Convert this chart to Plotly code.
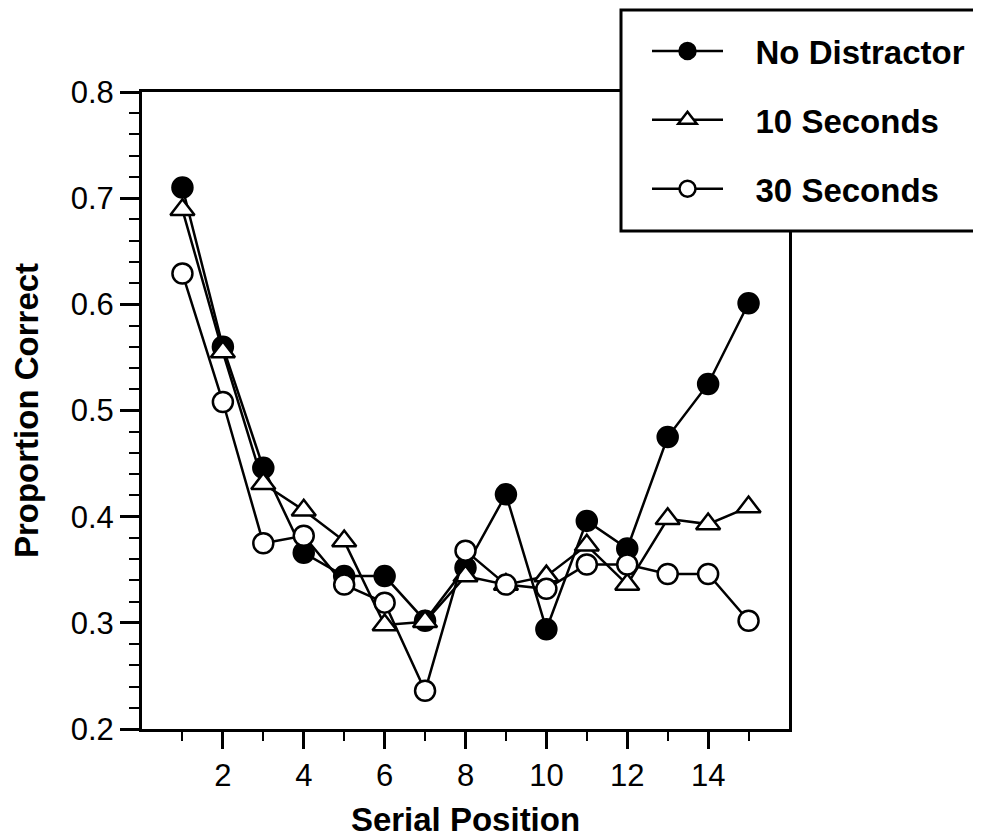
import plotly.graph_objects as go

serial_position = list(range(1, 16))
no_distractor = [0.710, 0.560, 0.446, 0.366, 0.344, 0.344, 0.302, 0.352, 0.421, 0.294, 0.396, 0.370, 0.475, 0.525, 0.601]
ten_seconds = [0.689, 0.555, 0.431, 0.406, 0.377, 0.298, 0.301, 0.344, 0.336, 0.344, 0.373, 0.336, 0.398, 0.393, 0.409]
thirty_seconds = [0.629, 0.508, 0.375, 0.382, 0.336, 0.319, 0.236, 0.368, 0.336, 0.332, 0.355, 0.355, 0.346, 0.346, 0.302]
series_names = ["No Distractor", "10 Seconds", "30 Seconds"]
x_tick_vals = [2, 4, 6, 8, 10, 12, 14]
x_minor_vals = [1, 3, 5, 7, 9, 11, 13, 15]
y_tick_vals = [0.2, 0.3, 0.4, 0.5, 0.6, 0.7, 0.8]
y_tick_text = ["0.2", "0.3", "0.4", "0.5", "0.6", "0.7", "0.8"]

FONT = "Liberation Sans"
NBSP = "\u00a0"
fig = go.Figure()

styles = [
    dict(symbol="circle", color="black", size=20),
    dict(symbol="triangle-up", color="white", size=21),
    dict(symbol="circle", color="white", size=20),
]
for i, (name, vals) in enumerate(zip(series_names, [no_distractor, ten_seconds, thirty_seconds])):
    s = styles[i]
    fig.add_trace(go.Scatter(
        x=serial_position, y=vals, name=NBSP * 3 + name, mode="lines+markers",
        legendgroup=f"g{i}",
        line=dict(color="black", width=2.5),
        marker=dict(symbol=s["symbol"], size=s["size"], color=s["color"],
                    line=dict(color="black", width=2.5)),
    ))

# page body adds an 8px offset; the figure is sized so the page matches 981x838
OFF = 8
W, H = 981 - OFF, 838 - OFF
L = 142 - OFF
T = 92 - OFF
R = W - (789 - OFF)
B = H - (729 - OFF)
pw, ph = W - L - R, H - T - B

def px_x(p):
    return (p - OFF - L) / pw

def px_y(p):
    return (H - B - (p - OFF)) / ph

# legend box
fig.add_shape(type="rect", xref="paper", yref="paper",
              x0=px_x(621), x1=px_x(1010), y0=px_y(231), y1=px_y(10),
              fillcolor="white", line=dict(color="black", width=3), layer="above")

axis_common = dict(showline=True, linecolor="black", linewidth=3, mirror=True,
                   ticks="outside", tickwidth=2.5, tickcolor="black",
                   showgrid=False, zeroline=False,
                   tickfont=dict(family=FONT, size=31, color="black"))

fig.update_xaxes(range=[0, 16], tickmode="array", tickvals=x_tick_vals, ticklen=17,
                 minor=dict(tickmode="array", tickvals=x_minor_vals,
                            ticks="outside", ticklen=9, tickwidth=2, tickcolor="black"),
                 title=dict(text="Serial Position", standoff=22,
                            font=dict(family=FONT, size=33, color="black", weight="bold")),
                 **axis_common)
fig.update_yaxes(range=[0.2, 0.8], tickmode="array", tickvals=y_tick_vals,
                 ticktext=y_tick_text, ticklen=19,
                 minor=dict(dtick=0.02, ticks="outside", ticklen=10, tickwidth=2, tickcolor="black"),
                 title=dict(text="Proportion Correct", standoff=26,
                            font=dict(family=FONT, size=33, color="black", weight="bold")),
                 **axis_common)

fig.update_layout(
    width=W, height=H,
    margin=dict(l=L, r=R, t=T, b=B, autoexpand=False),
    plot_bgcolor="white", paper_bgcolor="white",
    showlegend=True,
    legend=dict(x=px_x(647), y=px_y(23), xanchor="left", yanchor="top",
                bgcolor="rgba(0,0,0,0)", borderwidth=0,
                font=dict(family=FONT, size=33, color="black", weight="bold"),
                itemwidth=71, tracegroupgap=23),
)

fig.write_html("out.html")
